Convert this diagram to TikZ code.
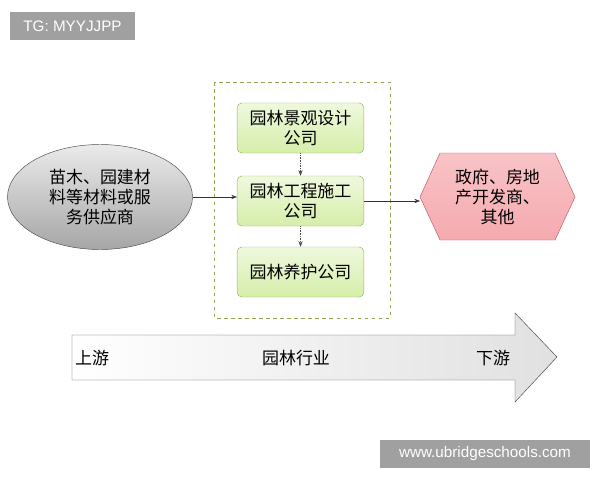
\documentclass[tikz,border=0pt]{standalone}
\usepackage{fontspec}
\setmainfont{Noto Sans CJK SC}
\setsansfont{Liberation Sans}
\usetikzlibrary{arrows.meta, shapes.geometric, positioning}
\definecolor{boxgreen}{RGB}{214,238,170}
\definecolor{boxedge}{RGB}{150,180,100}
\definecolor{hexred}{RGB}{245,170,175}
\definecolor{hexedge}{RGB}{190,90,100}
\definecolor{dashgreen}{RGB}{150,160,80}
\definecolor{tagray}{RGB}{160,160,160}
\tikzset{
	firm/.style={draw=boxedge, rounded corners=4pt, top color=white!60!boxgreen, bottom color=boxgreen, minimum width=3.8cm, minimum height=1.5cm, align=center, font=\fontsize{14.5}{17}\selectfont, inner sep=1pt},
	tag/.style={fill=tagray, text=white, font=\sffamily\fontsize{13}{15}\selectfont, inner sep=0pt, anchor=center}
}
\begin{document}
\begin{tikzpicture}[>=Stealth, x=0.03cm, y=-0.03cm]
	\useasboundingbox (0,0) rectangle (600,480);
	% tags
	\fill[tagray] (10,12) rectangle (135,40);
	\node[tag] (tg) at (72.5,26) {TG: MYYJJPP};
	\fill[tagray] (380,440) rectangle (590,468);
	\node[tag] (web) at (485,454) {www.ubridgeschools.com};
	
	% dashed frame
	\draw[dashgreen, dashed, thick] (214,82) rectangle (390,318);
	
	\node[firm] (design) at (300.5,128) {园林景观设计\\公司};
	\node[firm] (build) at (300.5,201) {园林工程施工\\公司};
	\node[firm] (care) at (300.5,272) {园林养护公司};
	
	\node[ellipse, draw=black!70, top color=black!8, bottom color=black!35, minimum width=5.55cm, minimum height=3.15cm, align=center, font=\fontsize{14.5}{17}\selectfont, inner sep=0pt] (supply) at (100,197) {苗木、园建材\\料等材料或服\\务供应商};
	% hexagon
	\coordinate (hw) at (420,197);
	\draw[hexedge, top color=white!30!hexred, bottom color=hexred] (hw) -- (440,153) -- (555,153) -- (575,197) -- (555,240) -- (440,240) -- cycle;
	\node[align=center, font=\fontsize{14.5}{17}\selectfont] (client) at (497.5,197) {政府、房地\\产开发商、\\其他};
	
	\draw[->, black!80] (supply.east) -- (build.west |- supply.east);
	\draw[->, black!80] (build.east) -- (hw |- build.east);
	\draw[->, densely dotted, black!70] (design) -- (build);
	\draw[->, densely dotted, black!70] (build) -- (care);
	
	% big arrow
	\draw[black!70, left color=white, right color=black!12] (72,335) -- (515,335) -- (515,313) -- (557,357) -- (515,402) -- (515,380) -- (72,380) -- cycle;
	\node[font=\fontsize{14.5}{17}\selectfont] (up) at (92,358) {上游};
	\node[font=\fontsize{14.5}{17}\selectfont] (mid) at (296,358) {园林行业};
	\node[font=\fontsize{14.5}{17}\selectfont] (down) at (493,358) {下游};
\end{tikzpicture}
\end{document}
